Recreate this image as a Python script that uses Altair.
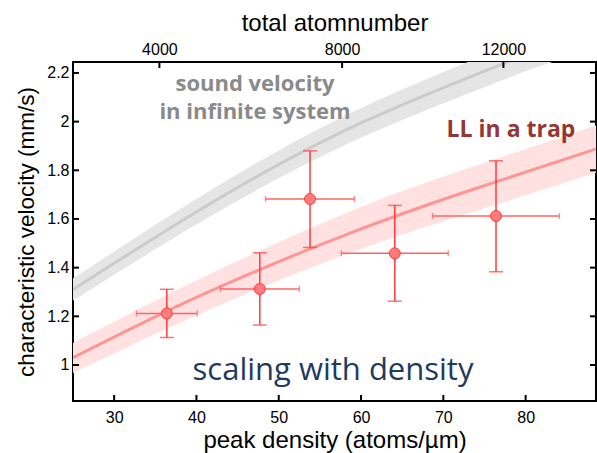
import altair as alt
import pandas as pd

# ---------------- data ----------------
density_ticks = [30, 40, 50, 60, 70, 80]
velocity_ticks = [1.0, 1.2, 1.4, 1.6, 1.8, 2.0, 2.2]
top_tick_labels = ["4000", "8000", "12000"]
top_tick_density = [35.5, 57.7, 77.3]

# sound velocity in infinite system (gray band)
gray_n = [25, 40.4, 57.5, 73.2, 80, 85]
gray_mid = [1.31, 1.637, 1.955, 2.183, 2.275, 2.335]
gray_low = [1.265, 1.585, 1.895, 2.118, 2.207, 2.265]
gray_high = [1.355, 1.69, 2.015, 2.248, 2.343, 2.405]

# LL in a trap (pink band)
pink_n = [25, 40.6, 58.6, 73.2, 88.6]
pink_mid = [1.03, 1.287, 1.541, 1.717, 1.888]
pink_low = [0.967, 1.213, 1.46, 1.625, 1.79]
pink_high = [1.09, 1.357, 1.63, 1.81, 1.985]

# measured points
pt_density = [36.4, 47.7, 53.8, 64.1, 76.4]
pt_velocity = [1.212, 1.312, 1.682, 1.459, 1.612]
pt_dens_lo = [32.7, 42.9, 48.4, 57.6, 68.7]
pt_dens_hi = [40.1, 52.5, 59.2, 70.6, 84.1]
pt_vel_lo = [1.113, 1.164, 1.483, 1.262, 1.383]
pt_vel_hi = [1.311, 1.461, 1.880, 1.656, 1.839]

# ---------------- chart ----------------
W, H = 523, 339
TICK = 6
FONT = "Liberation Sans"
DECO = "Comic Sans MS, Open Sans, sans-serif"
INTERP = "natural"

xs = alt.Scale(domain=[25, 88.55], nice=False, zero=False)
ys = alt.Scale(domain=[0.852, 2.245], nice=False, zero=False)

gray = pd.DataFrame({"n": gray_n, "mid": gray_mid, "lo": gray_low, "hi": gray_high})
pink = pd.DataFrame({"n": pink_n, "mid": pink_mid, "lo": pink_low, "hi": pink_high})
pts = pd.DataFrame({"n": pt_density, "v": pt_velocity, "nlo": pt_dens_lo,
                    "nhi": pt_dens_hi, "vlo": pt_vel_lo, "vhi": pt_vel_hi})

X = lambda f: alt.X(f, type="quantitative", scale=xs, axis=None)
Y = lambda f: alt.Y(f, type="quantitative", scale=ys, axis=None)

gray_band = alt.Chart(gray).mark_area(color="#e5e5e5", interpolate=INTERP, clip=True).encode(
    x=X("n"), y=Y("lo"), y2="hi")
gray_line = alt.Chart(gray).mark_line(color="#cbcbcb", strokeWidth=3, interpolate=INTERP, clip=True).encode(
    x=X("n"), y=Y("mid"))
pink_band = alt.Chart(pink).mark_area(color="#ffe1e1", interpolate=INTERP, clip=True).encode(
    x=X("n"), y=Y("lo"), y2="hi")
pink_line = alt.Chart(pink).mark_line(color="#ff9595", strokeWidth=3, interpolate=INTERP, clip=True).encode(
    x=X("n"), y=Y("mid"))

hbar = alt.Chart(pts).mark_rule(color="#ff6464", strokeWidth=1.5).encode(x=X("nlo"), x2="nhi", y=Y("v"))
hcap_l = alt.Chart(pts).mark_tick(color="#ff6464", orient="vertical", size=6, thickness=1.5).encode(x=X("nlo"), y=Y("v"))
hcap_r = alt.Chart(pts).mark_tick(color="#ff6464", orient="vertical", size=6, thickness=1.5).encode(x=X("nhi"), y=Y("v"))
vbar = alt.Chart(pts).mark_rule(color="#ff3c3c", strokeWidth=1.5).encode(x=X("n"), y=Y("vlo"), y2="vhi")
vcap_l = alt.Chart(pts).mark_tick(color="#ff3c3c", orient="horizontal", size=14, thickness=1.5).encode(x=X("n"), y=Y("vlo"))
vcap_h = alt.Chart(pts).mark_tick(color="#ff3c3c", orient="horizontal", size=14, thickness=1.5).encode(x=X("n"), y=Y("vhi"))
points = alt.Chart(pts).mark_point(filled=True, shape="circle", size=120, fill="#ff7a7a",
                                   stroke="#ff3c3c", strokeWidth=1, opacity=1).encode(x=X("n"), y=Y("v"))

t_sound = alt.Chart(pd.DataFrame({"a": [0]})).mark_text(
    text="sound velocity\nin infinite system", lineBreak="\n", lineHeight=28, font=DECO,
    fontSize=22, fontWeight="bold", color="#8a8a8a", align="center", baseline="middle").encode(
    x=alt.value(182), y=alt.value(22))
t_ll = alt.Chart(pd.DataFrame({"a": [0]})).mark_text(
    text="LL in a trap", font=DECO, fontSize=23, fontWeight="bold", color="#943634",
    align="center", baseline="middle").encode(x=alt.value(438), y=alt.value(68))
t_scal = alt.Chart(pd.DataFrame({"a": [0]})).mark_text(
    text="scaling with density", font=DECO, fontSize=31, color="#1f3a60",
    align="center", baseline="middle").encode(x=alt.value(260), y=alt.value(309))

label_expr = "({" + ",".join(f"'{d}':'{l}'" for d, l in zip(top_tick_density, top_tick_labels)) + "})[datum.value]"

bt = pd.DataFrame({"d": density_ticks})
tt = pd.DataFrame({"d": top_tick_density})
vt = pd.DataFrame({"v": velocity_ticks})

bottom_ticks = alt.Chart(bt).mark_rule(color="black", strokeWidth=2).encode(
    x=alt.X("d:Q", scale=xs, axis=alt.Axis(orient="bottom", values=density_ticks,
                                            title="peak density (atoms/µm)", labelPadding=8,
                                            titlePadding=3, titleFontSize=24)),
    y=alt.value(H), y2=alt.value(H - TICK))
top_ticks = alt.Chart(tt).mark_rule(color="black", strokeWidth=2).encode(
    x=alt.X("d:Q", scale=xs, axis=alt.Axis(orient="top", values=top_tick_density, labelExpr=label_expr,
                                            title="total atomnumber", labelPadding=5, titlePadding=6,
                                            titleFontSize=24)),
    y=alt.value(0), y2=alt.value(TICK))
left_ticks = alt.Chart(vt).mark_rule(color="black", strokeWidth=2).encode(
    y=alt.Y("v:Q", scale=ys, axis=alt.Axis(orient="left", values=velocity_ticks,
                                           labelExpr="format(datum.value, '~g')",
                                           title="characteristic velocity (mm/s)",
                                           labelPadding=4, titlePadding=8, titleFontSize=22.5)),
    x=alt.value(0), x2=alt.value(TICK))
right_ticks = alt.Chart(vt).mark_rule(color="black", strokeWidth=2).encode(
    y=alt.Y("v:Q", scale=ys, axis=None),
    x=alt.value(W), x2=alt.value(W - TICK))

chart = alt.layer(
    gray_band, gray_line, pink_band, pink_line,
    hbar, hcap_l, hcap_r, vbar, vcap_l, vcap_h, points,
    t_sound, t_ll, t_scal,
    bottom_ticks, top_ticks, left_ticks, right_ticks,
).resolve_axis(x="independent", y="independent").properties(
    width=W, height=H,
    padding={"left": 73, "top": 62, "right": 1, "bottom": 52},
    autosize="none",
).configure_view(stroke="black", strokeWidth=2).configure_axis(
    domain=False, ticks=False, tickSize=0, grid=False,
    labelFont=FONT, labelFontSize=16, labelColor="black",
    titleFont=FONT, titleFontSize=22, titleFontWeight="normal", titleColor="black",
)

chart.save("out.html", embed_options={"renderer": "svg", "actions": False})
